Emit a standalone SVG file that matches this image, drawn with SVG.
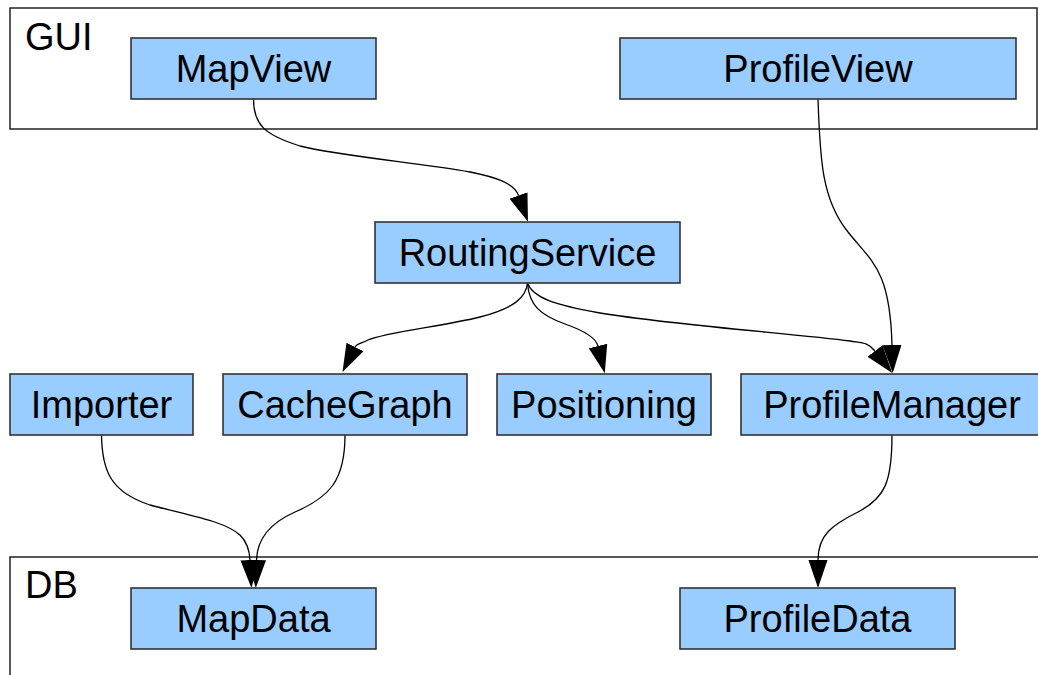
<svg xmlns="http://www.w3.org/2000/svg" width="1038" height="675" viewBox="0 0 1038 675">
<style>
.container{fill:#ffffff;stroke:#222222;stroke-width:1.5}
.box{fill:#99ccff;stroke:#333333;stroke-width:1.6}
.lbl{font-family:"Liberation Sans",Arial,sans-serif;font-size:38px;fill:#000000}
.node text{text-anchor:middle}
.edge{fill:none;stroke:#000000;stroke-width:1.3;marker-end:url(#arrow)}
</style>
<defs>
<marker id="arrow" markerUnits="userSpaceOnUse" markerWidth="32" markerHeight="24" viewBox="0 -12 32 24" refX="0" refY="0" orient="auto">
<path d="M0,-9.5 L28,0 L0,9.5 Z" fill="#000000"/>
</marker>
</defs>
<rect width="1038" height="675" fill="#ffffff"/>
<g id="GUI">
<rect class="container" x="10" y="8" width="1027" height="121"/>
<text class="lbl" x="25" y="50">GUI</text>
</g>
<g id="DB">
<rect class="container" x="10" y="557" width="1040" height="140"/>
<text class="lbl" x="25" y="598">DB</text>
</g>
<g id="connectors">
<path class="edge" d="M253.5,99 C253.5,125 265,135 300,146 C340,156 420,163 470,172 C495,177 514,183 518.5,195.5"/>
<path class="edge" d="M818,99 C820,160 822,200 848,232 C872,262 890,270 892,345"/>
<path class="edge" d="M527.5,283 C526,297 515,308 480,317 C445,326 385,332 368,340 C363,343 357,343 355,347"/>
<path class="edge" d="M527.5,283 C529,305 540,315 565,324 C585,331 596,338 598,346"/>
<path class="edge" d="M527.5,283 C533,298 555,305 600,313 C680,326 800,334 850,341 C862,343 868,342 875,351"/>
<path class="edge" d="M101.5,435 C102,470 110,492 150,505 C200,518 225,522 240,535 C247,542 249.5,550 250,560"/>
<path class="edge" d="M345,435 C345,480 330,497 295,512 C268,524 257,540 256.5,560"/>
<path class="edge" d="M892,435 C892,482 885,498 858,512 C832,525 818,535 818,560"/>
</g>
<g id="MapView" class="node">
<rect class="box" x="131" y="38" width="245" height="61"/>
<text class="lbl" x="253.5" y="82">MapView</text>
</g>
<g id="ProfileView" class="node">
<rect class="box" x="620" y="38" width="396" height="61"/>
<text class="lbl" x="818" y="82">ProfileView</text>
</g>
<g id="RoutingService" class="node">
<rect class="box" x="375" y="222" width="305" height="61"/>
<text class="lbl" x="527.5" y="266">RoutingService</text>
</g>
<g id="Importer" class="node">
<rect class="box" x="10" y="374" width="183" height="61"/>
<text class="lbl" x="101.5" y="418">Importer</text>
</g>
<g id="CacheGraph" class="node">
<rect class="box" x="223" y="374" width="244" height="61"/>
<text class="lbl" x="345" y="418">CacheGraph</text>
</g>
<g id="Positioning" class="node">
<rect class="box" x="497" y="374" width="214" height="61"/>
<text class="lbl" x="604" y="418">Positioning</text>
</g>
<g id="ProfileManager" class="node">
<rect class="box" x="741" y="374" width="302" height="61"/>
<text class="lbl" x="892" y="418">ProfileManager</text>
</g>
<g id="MapData" class="node">
<rect class="box" x="131" y="588" width="245" height="61"/>
<text class="lbl" x="253.5" y="632">MapData</text>
</g>
<g id="ProfileData" class="node">
<rect class="box" x="680" y="588" width="275" height="61"/>
<text class="lbl" x="817.5" y="632">ProfileData</text>
</g>
</svg>
